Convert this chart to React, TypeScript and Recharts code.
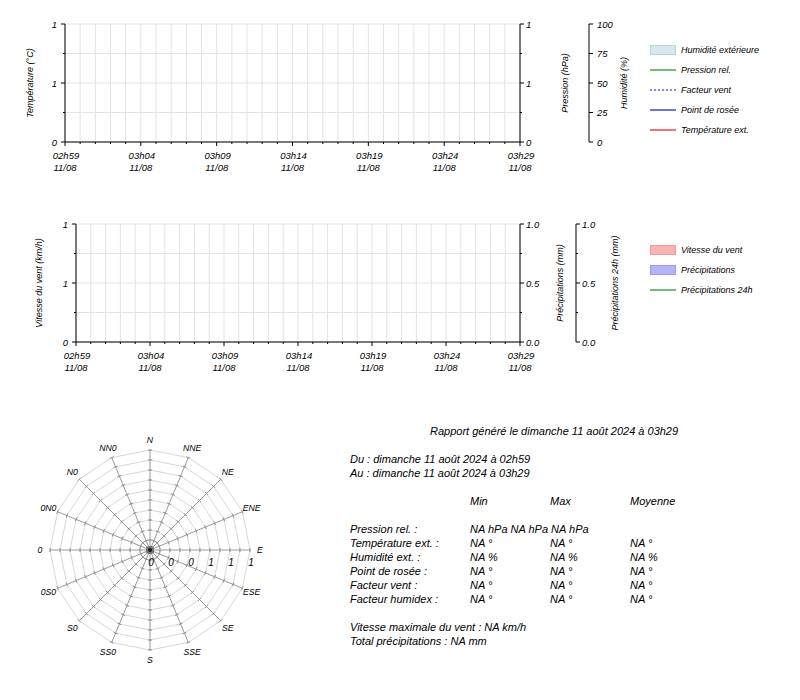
import React from 'react';
import {
  ComposedChart, Line, Area, Bar, XAxis, YAxis, CartesianGrid,
  RadarChart, Radar, PolarGrid, PolarAngleAxis, PolarRadiusAxis,
} from 'recharts';

// axe des temps : une graduation par minute, de 02h59 à 03h29
const minuteTicks = [0, 1, 2, 3, 4, 5, 6, 7, 8, 9, 10, 11, 12, 13, 14, 15, 16, 17, 18, 19, 20, 21, 22, 23, 24, 25, 26, 27, 28, 29, 30];
const timeLabels = ['02h59', '03h04', '03h09', '03h14', '03h19', '03h24', '03h29'];
const dateLabels = ['11/08', '11/08', '11/08', '11/08', '11/08', '11/08', '11/08'];

// aucune mesure sur la période (NA)
const humiditeExt: (number | null)[] = [];
const pressionRel: (number | null)[] = [];
const facteurVent: (number | null)[] = [];
const pointRosee: (number | null)[] = [];
const temperatureExt: (number | null)[] = [];
const vitesseVent: (number | null)[] = [];
const precipitations: (number | null)[] = [];
const precipitations24h: (number | null)[] = [];

const unitTicks = [0, 0.25, 0.5, 0.75, 1];
const humidityTicks = [0, 25, 50, 75, 100];
const roseTicks = [0, 0.1, 0.2, 0.3, 0.4, 0.5, 0.6, 0.7, 0.8, 0.9, 1];

const directions = ['N', 'NNE', 'NE', 'ENE', 'E', 'ESE', 'SE', 'SSE', 'S', 'SS0', 'S0', '0S0', '0', '0N0', 'N0', 'NN0'];
const frequences = [0, 0, 0, 0, 0, 0, 0, 0, 0, 0, 0, 0, 0, 0, 0, 0];

const reportTitle = 'Rapport généré le dimanche 11 août 2024 à 03h29';
const periodLines = ['Du : dimanche 11 août 2024 à 02h59', 'Au : dimanche 11 août 2024 à 03h29'];
const statHeaders = ['Min', 'Max', 'Moyenne'];
const statLabels = ['Pression rel. :', 'Température ext. :', 'Humidité ext. :', 'Point de rosée :', 'Facteur vent :', 'Facteur humidex :'];
const statMin = ['NA hPa NA hPa NA hPa', 'NA °', 'NA %', 'NA °', 'NA °', 'NA °'];
const statMax = ['', 'NA °', 'NA %', 'NA °', 'NA °', 'NA °'];
const statMoy = ['', 'NA °', 'NA %', 'NA °', 'NA °', 'NA °'];
const totals = ['Vitesse maximale du vent : NA km/h', 'Total précipitations : NA mm'];

const rows1 = minuteTicks.map((m, i) => ({
  minute: m,
  humidite: humiditeExt[i] ?? null,
  pression: pressionRel[i] ?? null,
  facteurVent: facteurVent[i] ?? null,
  rosee: pointRosee[i] ?? null,
  temperature: temperatureExt[i] ?? null,
}));

const rows2 = minuteTicks.map((m, i) => ({
  minute: m,
  vent: vitesseVent[i] ?? null,
  precip: precipitations[i] ?? null,
  precip24: precipitations24h[i] ?? null,
}));

const roseData = directions.map((d, i) => ({ direction: d, frequence: frequences[i] }));

const FONT = '"Liberation Sans", Arial, sans-serif';
const tickStyle = { fontFamily: FONT, fontStyle: 'italic' as const, fontSize: 9.5, fill: '#000' };
const titleStyle = { fontFamily: FONT, fontStyle: 'italic' as const, fontSize: 9, fill: '#000' };

function TimeTick({ x = 0, y = 0, payload }: any) {
  const m = payload.value;
  const major = m % 5 === 0;
  return (
    <g>
      <line x1={x} x2={x} y1={y} y2={y + (major ? 4 : 2)} stroke="#000" />
      {major && (
        <>
          <text x={x + 1} y={y + 17} textAnchor="middle" style={tickStyle}>{timeLabels[m / 5]}</text>
          <text x={x} y={y + 29} textAnchor="middle" style={tickStyle}>{dateLabels[m / 5]}</text>
        </>
      )}
    </g>
  );
}

function ValueTick({ x = 0, y = 0, payload, side, fmt, gap }: any) {
  const label = fmt(payload.value);
  const dir = side === 'left' ? -1 : 1;
  const len = label !== null ? 4 : 2;
  return (
    <g>
      <line x1={x} x2={x + dir * len} y1={y} y2={y} stroke="#000" />
      {label !== null && (
        <text x={x + dir * gap} y={y + 3.5} textAnchor={side === 'left' ? 'end' : 'start'} style={tickStyle}>
          {label}
        </text>
      )}
    </g>
  );
}

const halfRound = (v: number) => (Number.isInteger(v * 2) ? String(Math.round(v)) : null);
const halfFixed = (v: number) => (Number.isInteger(v * 2) ? v.toFixed(1) : null);
const plain = (v: number) => String(v);

function AxisTitle({ viewBox, text, dx }: any) {
  const cx = viewBox.x + dx;
  const cy = viewBox.y + viewBox.height / 2;
  return (
    <text x={cx} y={cy} transform={`rotate(-90 ${cx} ${cy})`} textAnchor="middle" dominantBaseline="central" style={titleStyle}>
      {text}
    </text>
  );
}

type LegendItem = { name: string; kind: 'area' | 'line' | 'dots'; color: string; fill?: string };

const legend1: LegendItem[] = [
  { name: 'Humidité extérieure', kind: 'area', color: '#b4d6dc', fill: '#d6eaee' },
  { name: 'Pression rel.', kind: 'line', color: '#1f8a1f' },
  { name: 'Facteur vent', kind: 'dots', color: '#1010c8' },
  { name: 'Point de rosée', kind: 'line', color: '#1010c8' },
  { name: 'Température ext.', kind: 'line', color: '#e01818' },
];

const legend2: LegendItem[] = [
  { name: 'Vitesse du vent', kind: 'area', color: '#f29a9a', fill: '#f7b4b4' },
  { name: 'Précipitations', kind: 'area', color: '#9a9af2', fill: '#b4b4f7' },
  { name: 'Précipitations 24h', kind: 'line', color: '#1f8a1f' },
];

function ChartLegend({ items, top }: { items: LegendItem[]; top: number }) {
  return (
    <div style={{ position: 'absolute', left: 648, top }}>
      {items.map((it) => (
        <div key={it.name} style={{ display: 'flex', alignItems: 'center', height: 20 }}>
          <svg width={28} height={12}>
            {it.kind === 'area' ? (
              <rect x={2.5} y={1.5} width={25} height={9} fill={it.fill} stroke={it.color} />
            ) : (
              <line x1={2} x2={28} y1={6} y2={6} stroke={it.color} strokeWidth={1.2} strokeDasharray={it.kind === 'dots' ? '2 2' : undefined} />
            )}
          </svg>
          <span style={{ marginLeft: 5, fontFamily: FONT, fontStyle: 'italic', fontSize: 9 }}>{it.name}</span>
        </div>
      ))}
    </div>
  );
}

function SpokeTick({ x = 0, y = 0, payload, angle, labels }: any) {
  const a = (angle * Math.PI) / 180;
  const sx = Math.sin(a) * 2;
  const sy = Math.cos(a) * 2;
  const v = payload.value;
  const showLabel = labels && Math.abs(v * 5 - Math.round(v * 5)) < 1e-6;
  return (
    <g>
      <line x1={x - sx} y1={y - sy} x2={x + sx} y2={y + sy} stroke="#8c8c8c" />
      {showLabel && (
        <text x={x + 1} y={y + 16} textAnchor="middle" style={{ ...tickStyle, fontSize: 10 }}>
          {String(Math.round(v))}
        </text>
      )}
    </g>
  );
}

function DirectionTick({ x = 0, y = 0, cx = 0, cy = 0, payload }: any) {
  const dx = x - cx;
  const dy = y - cy;
  const d = Math.sqrt(dx * dx + dy * dy) || 1;
  const r = 110;
  return (
    <text x={cx + (dx / d) * r} y={cy + (dy / d) * r} textAnchor="middle" dominantBaseline="central" style={{ ...tickStyle, fontSize: 8.7 }}>
      {payload.value}
    </text>
  );
}

function Report() {
  const txt = { position: 'absolute' as const, fontFamily: FONT, fontStyle: 'italic' as const, fontSize: 11, lineHeight: '14px', whiteSpace: 'nowrap' as const };
  const cols = [470, 550, 630];
  return (
    <>
      <div style={{ ...txt, left: 430, top: 424 }}>{reportTitle}</div>
      {periodLines.map((l, i) => (
        <div key={l} style={{ ...txt, left: 350, top: 452 + i * 14 }}>{l}</div>
      ))}
      {statHeaders.map((h, i) => (
        <div key={h} style={{ ...txt, left: cols[i], top: 494 }}>{h}</div>
      ))}
      {statLabels.map((l, i) => (
        <React.Fragment key={l}>
          <div style={{ ...txt, left: 350, top: 522 + i * 13.9 }}>{l}</div>
          <div style={{ ...txt, left: cols[0], top: 522 + i * 13.9 }}>{statMin[i]}</div>
          <div style={{ ...txt, left: cols[1], top: 522 + i * 13.9 }}>{statMax[i]}</div>
          <div style={{ ...txt, left: cols[2], top: 522 + i * 13.9 }}>{statMoy[i]}</div>
        </React.Fragment>
      ))}
      {totals.map((l, i) => (
        <div key={l} style={{ ...txt, left: 350, top: 620 + i * 14 }}>{l}</div>
      ))}
    </>
  );
}

const spokeIndexes = [0, 1, 2, 3, 5, 6, 7, 8, 9, 10, 11, 12, 13, 14, 15];

export default function App() {
  return (
    <div style={{ position: 'absolute', left: 0, top: 0, width: 800, height: 700, background: '#fff' }}>
      <div style={{ position: 'absolute', left: 0, top: 0 }}>
        <ComposedChart width={800} height={190} data={rows1} margin={{ top: 24, right: 150, bottom: 8, left: 0 }}>
          <XAxis dataKey="minute" type="number" domain={[0, 30]} ticks={minuteTicks} interval={0} height={40} allowDataOverflow
            tickSize={0} tickMargin={0} tickLine={false} axisLine={{ stroke: '#000' }} tick={<TimeTick />} />
          <YAxis yAxisId="l" domain={[0, 1]} ticks={unitTicks} interval={0} width={65} tickSize={0} tickMargin={0} tickLine={false} allowDataOverflow
            axisLine={{ stroke: '#000' }} tick={(p: any) => <ValueTick {...p} side="left" fmt={halfRound} gap={8} />}
            label={<AxisTitle text="Température (°C)" dx={30} />} />
          <YAxis yAxisId="r1" orientation="right" domain={[0, 1]} ticks={unitTicks} interval={0} width={69} tickSize={0} tickMargin={0} tickLine={false} allowDataOverflow
            axisLine={{ stroke: '#000' }} tick={(p: any) => <ValueTick {...p} side="right" fmt={halfRound} gap={6} />}
            label={<AxisTitle text="Pression (hPa)" dx={45} />} />
          <YAxis yAxisId="r2" orientation="right" domain={[0, 100]} ticks={humidityTicks} interval={0} width={61} tickSize={0} tickMargin={0} tickLine={false} allowDataOverflow
            axisLine={{ stroke: '#000' }} tick={(p: any) => <ValueTick {...p} side="right" fmt={plain} gap={8} />}
            label={<AxisTitle text="Humidité (%)" dx={35} />} />
          <CartesianGrid stroke="#e3e3e3" yAxisId="l" />
          <Area yAxisId="r2" dataKey="humidite" name="Humidité extérieure" stroke="#b4d6dc" fill="#d6eaee" isAnimationActive={false} />
          <Line yAxisId="r1" dataKey="pression" name="Pression rel." stroke="#1f8a1f" dot={false} isAnimationActive={false} />
          <Line yAxisId="l" dataKey="facteurVent" name="Facteur vent" stroke="#1010c8" strokeDasharray="2 2" dot={false} isAnimationActive={false} />
          <Line yAxisId="l" dataKey="rosee" name="Point de rosée" stroke="#1010c8" dot={false} isAnimationActive={false} />
          <Line yAxisId="l" dataKey="temperature" name="Température ext." stroke="#e01818" dot={false} isAnimationActive={false} />
        </ComposedChart>
        <ChartLegend items={legend1} top={40} />
      </div>

      <div style={{ position: 'absolute', left: 0, top: 200 }}>
        <ComposedChart width={800} height={190} data={rows2} margin={{ top: 24, right: 150, bottom: 8, left: 0 }}>
          <XAxis dataKey="minute" type="number" domain={[0, 30]} ticks={minuteTicks} interval={0} height={40} allowDataOverflow
            tickSize={0} tickMargin={0} tickLine={false} axisLine={{ stroke: '#000' }} tick={<TimeTick />} />
          <YAxis yAxisId="l" domain={[0, 1]} ticks={unitTicks} interval={0} width={76} tickSize={0} tickMargin={0} tickLine={false} allowDataOverflow
            axisLine={{ stroke: '#000' }} tick={(p: any) => <ValueTick {...p} side="left" fmt={halfRound} gap={8} />}
            label={<AxisTitle text="Vitesse du vent (km/h)" dx={39} />} />
          <YAxis yAxisId="r1" orientation="right" domain={[0, 1]} ticks={unitTicks} interval={0} width={56} tickSize={0} tickMargin={0} tickLine={false} allowDataOverflow
            axisLine={{ stroke: '#000' }} tick={(p: any) => <ValueTick {...p} side="right" fmt={halfFixed} gap={6} />}
            label={<AxisTitle text="Précipitations (mm)" dx={40} />} />
          <YAxis yAxisId="r2" orientation="right" domain={[0, 1]} ticks={unitTicks} interval={0} width={74} tickSize={0} tickMargin={0} tickLine={false} allowDataOverflow
            axisLine={{ stroke: '#000' }} tick={(p: any) => <ValueTick {...p} side="right" fmt={halfFixed} gap={6} />}
            label={<AxisTitle text="Précipitations 24h (mm)" dx={39} />} />
          <CartesianGrid stroke="#e3e3e3" yAxisId="l" />
          <Bar yAxisId="l" dataKey="vent" name="Vitesse du vent" fill="#f7b4b4" stroke="#f29a9a" isAnimationActive={false} />
          <Bar yAxisId="r1" dataKey="precip" name="Précipitations" fill="#b4b4f7" stroke="#9a9af2" isAnimationActive={false} />
          <Line yAxisId="r2" dataKey="precip24" name="Précipitations 24h" stroke="#1f8a1f" dot={false} isAnimationActive={false} />
        </ComposedChart>
        <ChartLegend items={legend2} top={40} />
      </div>

      <div style={{ position: 'absolute', left: 0, top: 400 }}>
        <RadarChart width={300} height={300} cx={150} cy={150} outerRadius={100} data={roseData} startAngle={90} endAngle={-270}>
          <PolarGrid gridType="polygon" radialLines={false} stroke="#d8d8d8" />
          <PolarAngleAxis dataKey="direction" tickLine={false} axisLine={false} tick={<DirectionTick />} />
          {spokeIndexes.map((i) => (
            <PolarRadiusAxis key={i} radiusAxisId={`s${i}`} angle={90 - i * 22.5} domain={[0, 1]} type="number" ticks={roseTicks as any} tickCount={11} allowDataOverflow
              axisLine={{ stroke: '#9a9a9a' }} tickLine={false} tick={(p: any) => <SpokeTick {...p} angle={90 - i * 22.5} labels={false} />} />
          ))}
          <PolarRadiusAxis radiusAxisId={0} angle={0} domain={[0, 1]} type="number" ticks={roseTicks as any} tickCount={11} allowDataOverflow
            axisLine={{ stroke: '#9a9a9a' }} tickLine={false} tick={(p: any) => <SpokeTick {...p} angle={0} labels />} />
          <Radar radiusAxisId={0} dataKey="frequence" name="Vent" stroke="#555" fill="#555" fillOpacity={0.3}
            dot={{ r: 3, fill: '#222', stroke: '#777', strokeWidth: 1.5 }} isAnimationActive={false} />
        </RadarChart>
      </div>

      <Report />
    </div>
  );
}
